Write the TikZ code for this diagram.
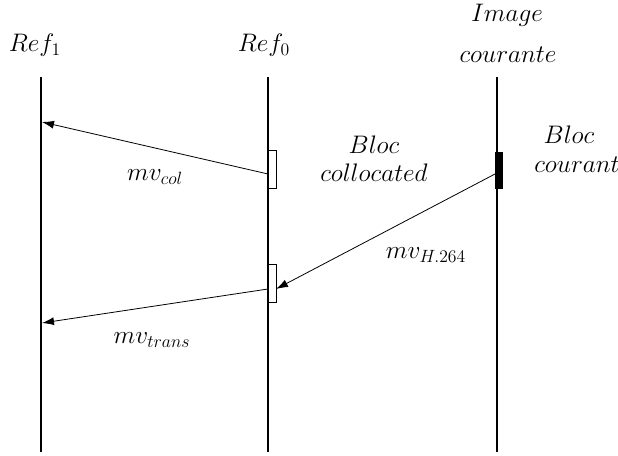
\documentclass[tikz,border=0pt]{standalone}
\usepackage{fix-cm}
\usetikzlibrary{arrows.meta}
\begin{document}
\begin{tikzpicture}[x=0.75pt,y=-0.75pt,
  vline/.style={line width=2pt},
  lbl/.style={font=\fontsize{19}{23}\selectfont, inner sep=1pt},
  blk/.style={draw, line width=0.6pt, fill=white, minimum width=6pt, minimum height=28pt, inner sep=0pt},
  cblk/.style={draw, fill=black, minimum width=5pt, minimum height=27pt, inner sep=0pt},
  arr/.style={-{Latex[length=9pt,width=6pt]}, line width=0.6pt}]
\useasboundingbox (0,0) rectangle (618,456);
% vertical lines
\coordinate (r1t) at (41,77); \coordinate (r1b) at (41,452);
\coordinate (r0t) at (268,77); \coordinate (r0b) at (268,452);
\coordinate (ict) at (497,77); \coordinate (icb) at (497,452);
\draw[vline] (r1t) -- (r1b);
\draw[vline] (r0t) -- (r0b);
\draw[vline] (ict) -- (icb);
% titles
\node[lbl] (tr1) at (35,45) {$Ref_1$};
\node[lbl] (tr0) at (264,45) {$Ref_0$};
\node[lbl] (tic1) at (507,15) {$Image$};
\node[lbl] (tic2) at (508,55) {$courante$};
% blocks
\node[blk] (bcol) at (272,169.5) {};
\node[blk] (btr) at (272,283.5) {};
\node[cblk] (bcur) at (498.5,170) {};
% arrow end points
\coordinate (p1) at (42,122);
\coordinate (p2) at (42,323);
\coordinate (s1) at (268,174);
\coordinate (s2) at (268,289);
\coordinate (s3) at (495,174);
\coordinate (e3) at (276,289);
\draw[arr] (s1) -- (p1);
\draw[arr] (s3) -- (e3);
\draw[arr] (s2) -- (p2);
% labels
\node[lbl] (lcol) at (155,177) {$mv_{col}$};
\node[lbl] (lh) at (426,255) {$mv_{H.264}$};
\node[lbl] (ltr) at (152,340) {$mv_{trans}$};
\node[lbl] (lb1) at (374,145) {$Bloc$};
\node[lbl] (lb2) at (374,173) {$collocated$};
\node[lbl] (lc1) at (569,135) {$Bloc$};
\node[lbl] (lc2) at (577,165) {$courant$};
\end{tikzpicture}
\end{document}
